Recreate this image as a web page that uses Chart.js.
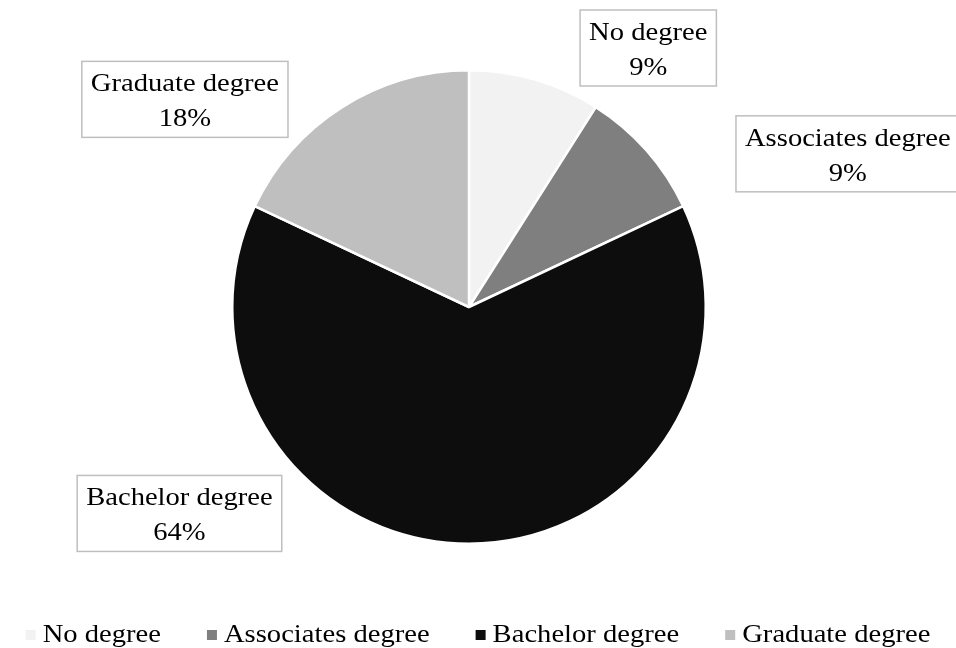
<!DOCTYPE html>
<html>
<head>
<meta charset="utf-8">
<script src="https://cdn.jsdelivr.net/npm/chart.js@4/dist/chart.umd.min.js"></script>
<style>
  html, body { margin: 0; padding: 0; background: #ffffff; }
  #wrap { width: 956px; height: 648px; position: relative; }
</style>
</head>
<body>
<div id="wrap"><canvas id="chart" width="956" height="648"></canvas></div>
<script>
// Education level of respondents
const categories = ['No degree', 'Associates degree', 'Bachelor degree', 'Graduate degree'];
const shares = [9, 9, 64, 18];
const sliceColors = ['#f2f2f2', '#7f7f7f', '#0d0d0d', '#bfbfbf'];

// Label box centres, in units of the pie radius from the pie centre
const labelPlacement = [
  { dx: 0.757, dy: -1.094 },
  { dx: 1.600, dy: -0.647 },
  { dx: -1.223, dy: 0.872 },
  { dx: -1.200, dy: -0.877 }
];

const FONT_FAMILY = '"Liberation Serif", "Times New Roman", serif';
const FONT_SIZE = 26;
const STRETCH = 1.1;   // horizontal scale of the serif text

function textWidth(ctx, s) { return ctx.measureText(s).width * STRETCH; }
function drawText(ctx, s, x, y) {
  ctx.save();
  ctx.translate(x, y);
  ctx.scale(STRETCH, 1);
  ctx.fillText(s, 0, 0);
  ctx.restore();
}

const labelBoxes = {
  id: 'labelBoxes',
  afterDatasetsDraw(chart) {
    const ctx = chart.ctx;
    const meta = chart.getDatasetMeta(0);
    ctx.save();
    ctx.font = FONT_SIZE + 'px ' + FONT_FAMILY;
    ctx.textBaseline = 'alphabetic';
    ctx.textAlign = 'left';
    meta.data.forEach((arc, i) => {
      const r = arc.outerRadius;
      const cx = arc.x + labelPlacement[i].dx * r;
      const cy = arc.y + labelPlacement[i].dy * r;
      const line1 = categories[i];
      const line2 = shares[i] + '%';
      const w = Math.max(textWidth(ctx, line1), textWidth(ctx, line2)) + 18;
      const h = 76;
      const x0 = cx - w / 2, y0 = cy - h / 2;
      ctx.fillStyle = '#ffffff';
      ctx.fillRect(x0, y0, w, h);
      ctx.strokeStyle = '#bfbfbf';
      ctx.lineWidth = 1.5;
      ctx.strokeRect(x0, y0, w, h);
      ctx.fillStyle = '#000000';
      drawText(ctx, line1, cx - textWidth(ctx, line1) / 2, y0 + 30);
      drawText(ctx, line2, cx - textWidth(ctx, line2) / 2, y0 + 65);
    });
    ctx.restore();
  }
};

const bottomLegend = {
  id: 'bottomLegend',
  afterDraw(chart) {
    const ctx = chart.ctx;
    ctx.save();
    ctx.font = FONT_SIZE + 'px ' + FONT_FAMILY;
    ctx.textBaseline = 'alphabetic';
    const box = 10, boxGap = 7, itemGap = 46;
    const widths = categories.map(c => box + boxGap + textWidth(ctx, c));
    const total = widths.reduce((a, b) => a + b, 0) + itemGap * (categories.length - 1);
    let x = 478 - total / 2;
    const baseline = 642;
    categories.forEach((c, i) => {
      ctx.fillStyle = sliceColors[i];
      ctx.fillRect(x, baseline - 12, box, box);
      ctx.fillStyle = '#000000';
      drawText(ctx, c, x + box + boxGap, baseline);
      x += widths[i] + itemGap;
    });
    ctx.restore();
  }
};

new Chart(document.getElementById('chart'), {
  type: 'pie',
  data: {
    labels: categories,
    datasets: [{
      data: shares,
      backgroundColor: sliceColors,
      borderColor: '#ffffff',
      borderWidth: 2.5
    }]
  },
  options: {
    responsive: false,
    animation: false,
    layout: { padding: { top: 69, bottom: 103, left: 0, right: 18 } },
    plugins: {
      legend: { display: false },
      tooltip: { enabled: false }
    }
  },
  plugins: [labelBoxes, bottomLegend]
});
</script>
</body>
</html>
